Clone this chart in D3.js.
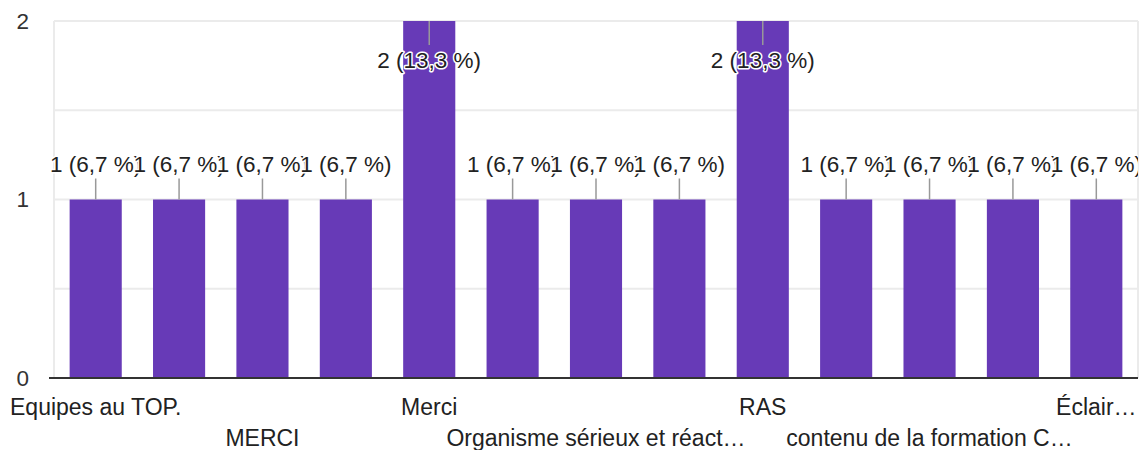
<!DOCTYPE html>
<html>
<head>
<meta charset="utf-8">
<script src="https://cdn.jsdelivr.net/npm/d3@7"></script>
<style>
  body { margin: 0; background: #fff; }
  svg { display: block; font-family: "Liberation Sans", Arial, sans-serif; }
</style>
</head>
<body>
<svg width="1143" height="450"></svg>
<script>
// answers (only every other one gets an axis label, like the original)
const categories = [
  'Equipes au TOP.', 'r2', 'MERCI', 'r4', 'Merci', 'r6',
  'Organisme sérieux et réact…', 'r8', 'RAS', 'r10',
  'contenu de la formation C…', 'r12', 'Éclair…'
];
const counts = [1, 1, 1, 1, 2, 1, 1, 1, 2, 1, 1, 1, 1];
const yTicks = [0, 1, 2];
const gridValues = [0.5, 1, 1.5, 2];

const total = d3.sum(counts);
const fmtPct = v => (v / total * 100).toFixed(1).replace('.', ',') + ' %';

const svg = d3.select('svg');
const margin = { left: 54, right: 5, top: 21, bottom: 72 };
const width = 1143, height = 450;
const fontSize = '22.5px';

const x = d3.scaleBand()
  .domain(d3.range(categories.length))
  .range([margin.left, width - margin.right])
  .paddingInner(0.375)
  .paddingOuter(0.1875);

const y = d3.scaleLinear()
  .domain([0, 2])
  .range([height - margin.bottom, margin.top]);

svg.append('defs').append('clipPath')
  .attr('id', 'labelclip')
  .append('rect')
  .attr('x', 0).attr('y', 0)
  .attr('width', width - margin.right).attr('height', height);

// grid
const grid = svg.append('g');
grid.selectAll('line.h')
  .data(gridValues)
  .enter().append('line')
  .attr('x1', margin.left).attr('x2', width - margin.right)
  .attr('y1', d => y(d)).attr('y2', d => y(d))
  .style('stroke', '#ebebeb').style('stroke-width', 2);
grid.selectAll('line.v')
  .data([margin.left, width - margin.right])
  .enter().append('line')
  .attr('x1', d => d).attr('x2', d => d)
  .attr('y1', y(2)).attr('y2', y(0))
  .style('stroke', '#ebebeb').style('stroke-width', 2);

// y tick labels
svg.append('g').selectAll('text')
  .data(yTicks)
  .enter().append('text')
  .attr('x', 29)
  .attr('y', d => y(d))
  .attr('dy', '0.35em')
  .attr('text-anchor', 'end')
  .style('font-size', fontSize)
  .style('fill', '#333')
  .text(d => d);

// bars
svg.append('g').selectAll('rect')
  .data(counts)
  .enter().append('rect')
  .attr('x', (d, i) => x(i))
  .attr('width', x.bandwidth())
  .attr('y', d => y(d))
  .attr('height', d => y(0) - y(d))
  .style('fill', '#673ab7');

// baseline
svg.append('line')
  .attr('x1', margin.left - 5).attr('x2', width - margin.right)
  .attr('y1', y(0)).attr('y2', y(0))
  .style('stroke', '#333').style('stroke-width', 2);

// labels of full-height bars go inside the bar, the rest above it
const inside = d => y(d) - 40 < margin.top;

// leader lines
svg.append('g').selectAll('line')
  .data(counts)
  .enter().append('line')
  .attr('x1', (d, i) => x(i) + x.bandwidth() / 2)
  .attr('x2', (d, i) => x(i) + x.bandwidth() / 2)
  .attr('y1', d => y(d))
  .attr('y2', d => inside(d) ? y(d) + 24 : y(d) - 21)
  .style('stroke', '#999').style('stroke-width', 1.5);

// value labels, each with a white halo drawn over the previous one
const labels = svg.append('g').attr('clip-path', 'url(#labelclip)');
counts.forEach((d, i) => {
  labels.append('text')
    .attr('x', x(i) + x.bandwidth() / 2)
    .attr('y', inside(d) ? y(d) + 39 : y(d) - 35)
    .attr('dy', '0.35em')
    .attr('text-anchor', 'middle')
    .style('font-size', fontSize)
    .style('fill', '#222')
    .style('stroke', '#fff')
    .style('stroke-width', 3)
    .style('stroke-linejoin', 'round')
    .style('paint-order', 'stroke')
    .text(`${d} (${fmtPct(d)})`);
});

// x labels: every second category, alternating rows
svg.append('g').selectAll('text')
  .data(categories.map((c, i) => ({ c, i })).filter(d => d.i % 2 === 0))
  .enter().append('text')
  .attr('x', d => x(d.i) + x.bandwidth() / 2)
  .attr('y', d => (d.i % 4 === 0 ? 415 : 446))
  .attr('text-anchor', 'middle')
  .style('font-size', '23px')
  .style('fill', '#222')
  .text(d => d.c);
</script>
</body>
</html>
